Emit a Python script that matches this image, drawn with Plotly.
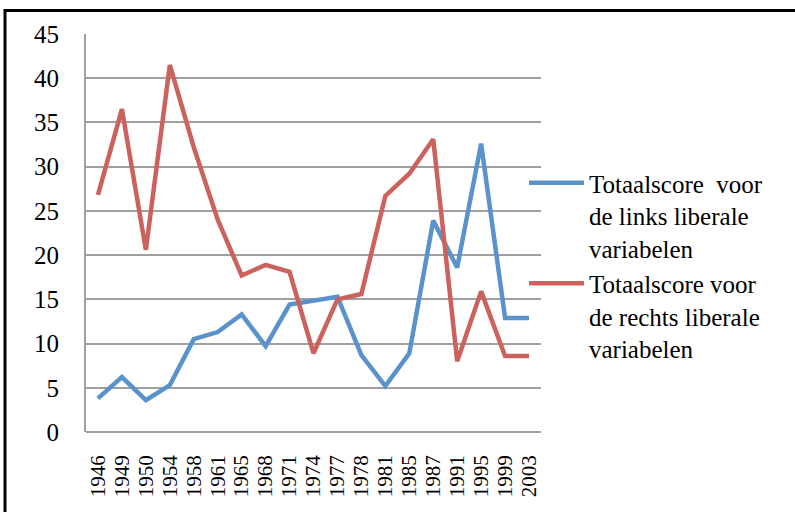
import plotly.graph_objects as go

years = ["1946", "1949", "1950", "1954", "1958", "1961", "1965", "1968", "1971", "1974",
         "1977", "1978", "1981", "1985", "1987", "1991", "1995", "1999", "2003"]
links = [3.8, 6.2, 3.6, 5.3, 10.5, 11.3, 13.3, 9.7, 14.4, 14.8,
         15.3, 8.7, 5.2, 8.9, 23.9, 18.6, 32.6, 12.9, 12.9]
rechts = [26.8, 36.5, 20.6, 41.5, 32.2, 24.0, 17.7, 18.9, 18.1, 8.9,
          15.0, 15.6, 26.7, 29.2, 33.1, 8.0, 15.9, 8.6, 8.6]
name_links = "Totaalscore&nbsp;&nbsp;voor<br>de links liberale<br>variabelen"
name_rechts = "Totaalscore voor<br>de rechts liberale<br>variabelen"
y_ticks = [0, 5, 10, 15, 20, 25, 30, 35, 40, 45]

BLUE = "#5A92CB"
RED = "#CC625D"
GRID = "#A0A0A0"
FONT = "Liberation Serif, Times New Roman, serif"

W, H = 795, 512
L, R, T, B = 86, 254, 34, 80
PW, PH = W - L - R, H - T - B


def px_x(p):
    return (p - L) / PW


def px_y(p):
    return (H - B - p) / PH


fig = go.Figure()
fig.add_trace(go.Scatter(x=years, y=links, mode="lines", name=name_links,
                         line=dict(color=BLUE, width=4.5)))
fig.add_trace(go.Scatter(x=years, y=rechts, mode="lines", name=name_rechts,
                         line=dict(color=RED, width=4.5)))

fig.update_layout(
    width=W, height=H,
    margin=dict(l=L, r=R, t=T, b=B, autoexpand=False),
    paper_bgcolor="white", plot_bgcolor="white",
    font=dict(family=FONT, color="black"),
    showlegend=True,
    legend=dict(x=px_x(524), xanchor="left", y=px_y(160), yanchor="top",
                bgcolor="rgba(0,0,0,0)", font=dict(family=FONT, size=25),
                valign="top", tracegroupgap=8, itemwidth=55),
    xaxis=dict(type="category", range=[-0.5, len(years) - 0.5],
               tickvals=years, ticktext=years,
               tickangle=-90, tickfont=dict(size=21, family=FONT),
               showgrid=False, showline=False, zeroline=False,
               ticks="", ticklabelstandoff=18, automargin=False),
    yaxis=dict(range=[0, 45], tickvals=y_ticks, tickfont=dict(size=25, family=FONT),
               showgrid=True, gridcolor=GRID, gridwidth=2,
               showline=True, linecolor=GRID, linewidth=2,
               zeroline=True, zerolinecolor=GRID, zerolinewidth=2,
               ticks="", ticklabelstandoff=20, automargin=False),
    shapes=[
        dict(type="rect", xref="paper", yref="paper",
             x0=px_x(520), x1=px_x(545), y0=px_y(370), y1=px_y(140),
             fillcolor="white", line=dict(width=0), layer="between"),
        dict(type="rect", xref="paper", yref="paper",
             x0=px_x(5), x1=px_x(820), y0=px_y(530), y1=px_y(10.5),
             line=dict(color="black", width=3), layer="above"),
    ],
)

fig.write_html("out.html", config={"displayModeBar": False},
               post_script="document.body.style.margin='0';")
